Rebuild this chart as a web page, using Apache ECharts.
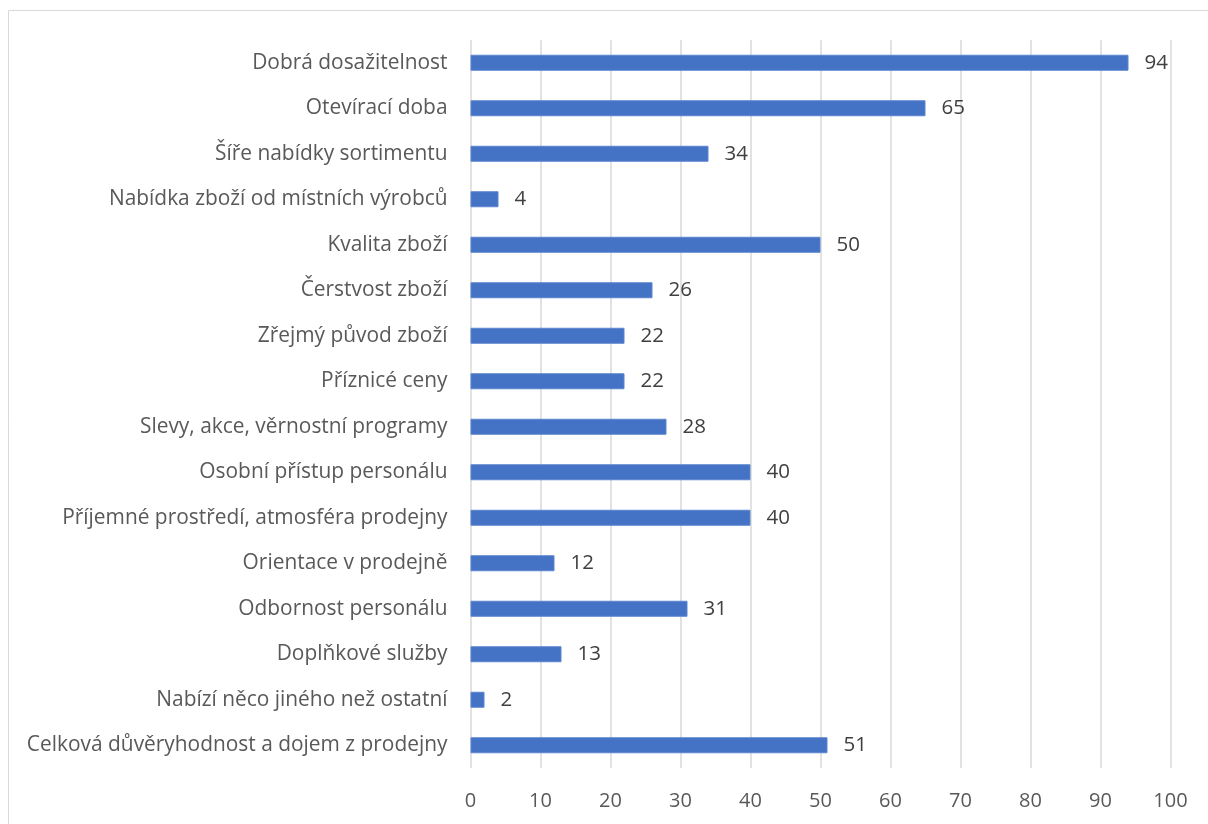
<!DOCTYPE html>
<html>
<head>
<meta charset="utf-8">
<style>
  html, body { margin: 0; padding: 0; background: #fff; }
  #chart { width: 1208px; height: 824px; }
</style>
<script src="https://cdn.jsdelivr.net/npm/echarts@6/dist/echarts.min.js"></script>
</head>
<body>
<div id="chart"></div>
<script>
// Factors in store choice and number of answers for each
const categories = [
  'Dobrá dosažitelnost',
  'Otevírací doba',
  'Šíře nabídky sortimentu',
  'Nabídka zboží od místních výrobců',
  'Kvalita zboží',
  'Čerstvost zboží',
  'Zřejmý původ zboží',
  'Příznicé ceny',
  'Slevy, akce, věrnostní programy',
  'Osobní přístup personálu',
  'Příjemné prostředí, atmosféra prodejny',
  'Orientace v prodejně',
  'Odbornost personálu',
  'Doplňkové služby',
  'Nabízí něco jiného než ostatní',
  'Celková důvěryhodnost a dojem z prodejny'
];
const values = [94, 65, 34, 4, 50, 26, 22, 22, 28, 40, 40, 12, 31, 13, 2, 51];
const axisMin = 0;
const axisMax = 100;
const axisStep = 10;

const FONT = 'Open Sans';

const chart = echarts.init(document.getElementById('chart'), null, { renderer: 'canvas' });
chart.setOption({
  animation: false,
  backgroundColor: '#ffffff',
  graphic: [{
    type: 'rect',
    silent: true,
    shape: { x: 8.5, y: 10.5, width: 1400, height: 1000 },
    style: { fill: 'none', stroke: '#d9d9d9', lineWidth: 1 }
  }],
  grid: { left: 470.5, top: 40, width: 700, height: 728, containLabel: false },
  xAxis: {
    type: 'value',
    min: axisMin,
    max: axisMax,
    interval: axisStep,
    axisLine: { show: false },
    axisTick: { show: false },
    splitLine: { show: true, lineStyle: { color: '#d9d9d9', width: 1.5 } },
    axisLabel: { color: '#595959', fontSize: 20, fontFamily: FONT, margin: 23 }
  },
  yAxis: {
    type: 'category',
    inverse: true,
    data: categories,
    axisLine: { show: false },
    axisTick: { show: false },
    axisLabel: { color: '#595959', fontSize: 20.9, fontFamily: FONT, margin: 23 }
  },
  series: [{
    type: 'bar',
    data: values,
    barWidth: 16,
    itemStyle: { color: '#4472c4', borderColor: '#5b85cf', borderWidth: 1 },
    label: {
      show: true,
      position: 'right',
      distance: 16,
      color: '#404040',
      fontSize: 20.5,
      fontFamily: FONT
    }
  }]
});
</script>
</body>
</html>
